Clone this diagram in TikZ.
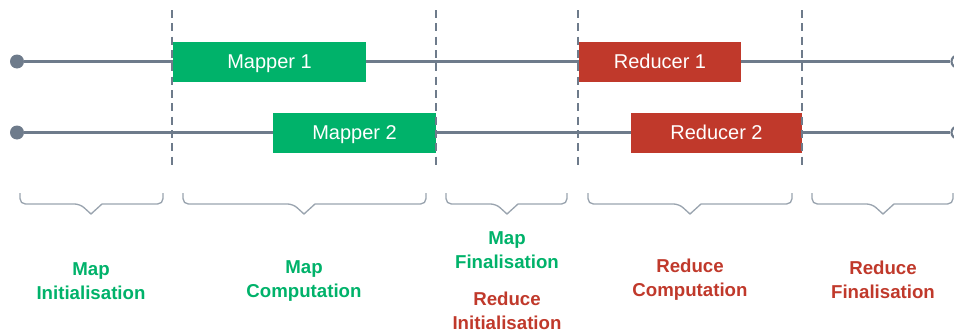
\documentclass[tikz,border=0pt]{standalone}
\usepackage{fontspec}
\setmainfont{Liberation Sans}
\definecolor{mgreen}{HTML}{00B26A}
\definecolor{rred}{HTML}{C0392B}
\definecolor{lgray}{HTML}{6E7B8B}
\definecolor{bgray}{HTML}{9AA4AF}
\tikzset{
  track/.style={draw=lgray, line width=1.6pt},
  phase/.style={draw=lgray, line width=1.5pt, dash pattern=on 6pt off 4pt},
  taskbox/.style={inner sep=0pt, minimum height=30pt, text height=10.8pt, text depth=0pt, text=white, font=\fontsize{15}{18}\selectfont},
  mapbox/.style={taskbox, fill=mgreen},
  redbox/.style={taskbox, fill=rred},
  startdot/.style={circle, fill=lgray, inner sep=0pt, minimum size=10.5pt},
  enddot/.style={circle, draw=lgray, line width=1.6pt, fill=white, inner sep=0pt, minimum size=9pt},
  brace/.style={draw=bgray, line width=1pt},
  lbl/.style={align=center, font=\bfseries\fontsize{14}{18}\selectfont},
}
\begin{document}
\begin{tikzpicture}[x=0.75pt,y=-0.75pt]
\useasboundingbox (0,0) rectangle (954,332);
\clip (0,0) rectangle (954,332);
% dots
\node[startdot] (s1) at (17,61.5) {};
\node[startdot] (s2) at (17,132.5) {};
\node[enddot] (e1) at (957.5,61.5) {};
\node[enddot] (e2) at (957.5,132.5) {};
% boxes
\node[mapbox, minimum width=144.75pt] (m1) at (269.5,61.5) {Mapper 1};
\node[mapbox, minimum width=122.25pt] (m2) at (354.5,132.5) {Mapper 2};
\node[redbox, minimum width=121.5pt] (r1) at (660,61.5) {Reducer 1};
\node[redbox, minimum width=128.25pt] (r2) at (716.5,132.5) {Reducer 2};
% tracks
\draw[track] (s1) -- (m1.west);
\draw[track] (m1.east) -- (r1.west);
\draw[track] (r1.east) -- (e1);
\draw[track] (s2) -- (m2.west);
\draw[track] (m2.east) -- (r2.west);
\draw[track] (r2.east) -- (e2);
% phase separators
\foreach \x [count=\i] in {172,436,578,802}{
  \coordinate (pt\i) at (\x,10);
  \coordinate (pb\i) at (\x,166);
  \draw[phase] (pt\i) -- (pb\i);
}
% braces
\foreach \a/\b/\t in {20/163/91, 183/426/304, 446/567/507, 588/792/690, 812/953/883}{
  \draw[brace, rounded corners=4pt] (\a,193) -- (\a,204) -- (\t-11,204) [sharp corners]-- (\t,214) -- (\t+11,204) [rounded corners=4pt]-- (\b,204) -- (\b,193);
}
% labels
\node[lbl, text=mgreen] (l1) at (91,281) {Map\\Initialisation};
\node[lbl, text=mgreen] (l2) at (304,281) {Map\\Computation};
\node[lbl, text=mgreen] (l3) at (507,250) {Map\\Finalisation};
\node[lbl, text=rred] (l4) at (507,311) {Reduce\\Initialisation};
\node[lbl, text=rred] (l5) at (690,280) {Reduce\\Computation};
\node[lbl, text=rred] (l6) at (883,280) {Reduce\\Finalisation};
\end{tikzpicture}
\end{document}
